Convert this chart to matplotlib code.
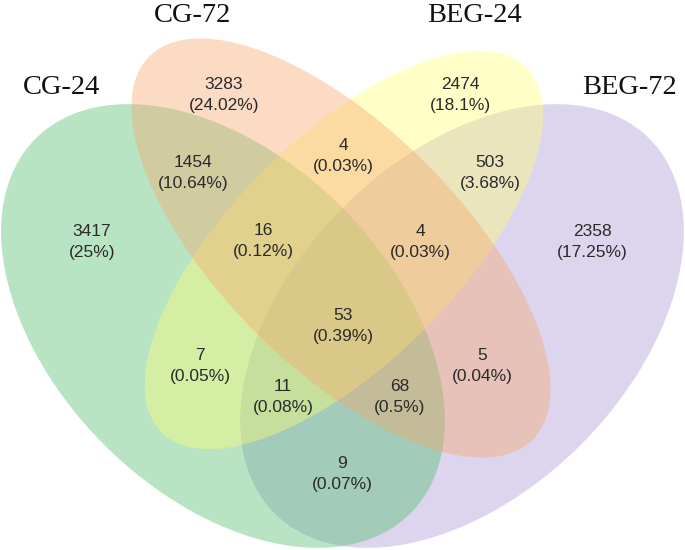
import matplotlib
matplotlib.use("Agg")
import matplotlib.pyplot as plt
from matplotlib.patches import Ellipse

# set names
set_names = ["CG-24", "CG-72", "BEG-24", "BEG-72"]

# region membership (CG-24, CG-72, BEG-24, BEG-72) and counts
regions = ["1000", "0100", "0010", "0001",
           "1100", "0110", "0011",
           "1110", "0111", "1111",
           "1010", "1011", "1101", "0101", "1001"]
counts = [3417, 3283, 2474, 2358,
          1454, 4, 503,
          16, 4, 53,
          7, 11, 68, 5, 9]

total = sum(counts)

# layout (pixel coordinates, y down)
label_pos = {
    "1000": (92, 242), "0100": (224, 95), "0010": (460, 95), "0001": (592, 242),
    "1100": (193, 173), "0110": (343, 156), "0011": (490, 173),
    "1110": (263, 241), "0111": (420, 242), "1111": (343, 326),
    "1010": (200, 366), "1011": (283, 397), "1101": (400, 397),
    "0101": (482, 366), "1001": (342, 474),
}
ellipses = {
    # name: (cx, cy, a, b, angle, color)
    "BEG-72": (462, 326, 265, 168, -45, "#aa98d4"),
    "CG-24": (223, 326, 265, 168, 45, "#4ebc6c"),
    "BEG-24": (344, 250, 258, 113, -45, "#ffff75"),
    "CG-72": (341, 248, 271, 120, 45, "#f7a76b"),
}
name_pos = {"CG-24": (62, 88), "CG-72": (193, 15), "BEG-24": (475, 15), "BEG-72": (630, 88)}

fig = plt.figure(figsize=(6.85, 5.5), dpi=100)
ax = fig.add_axes([0, 0, 1, 1])
ax.set_xlim(0, 685)
ax.set_ylim(550, 0)
ax.axis("off")

for name, (cx, cy, a, b, ang, col) in ellipses.items():
    ax.add_patch(Ellipse((cx, cy), 2 * a, 2 * b, angle=ang,
                         facecolor=col, edgecolor="none", alpha=0.4))

for key, n in zip(regions, counts):
    x, y = label_pos[key]
    pct = round(100 * n / total, 2)
    ax.text(x, y, f"{n}\n({pct:g}%)", ha="center", va="center",
            fontsize=12.5, family="Liberation Sans", color="#2a2a2a",
            linespacing=1.45)

for name in set_names:
    x, y = name_pos[name]
    ax.text(x, y, name, ha="center", va="center", fontsize=20.5,
            family="Liberation Serif", color="#111111")

fig.savefig("out.png", dpi=100)
